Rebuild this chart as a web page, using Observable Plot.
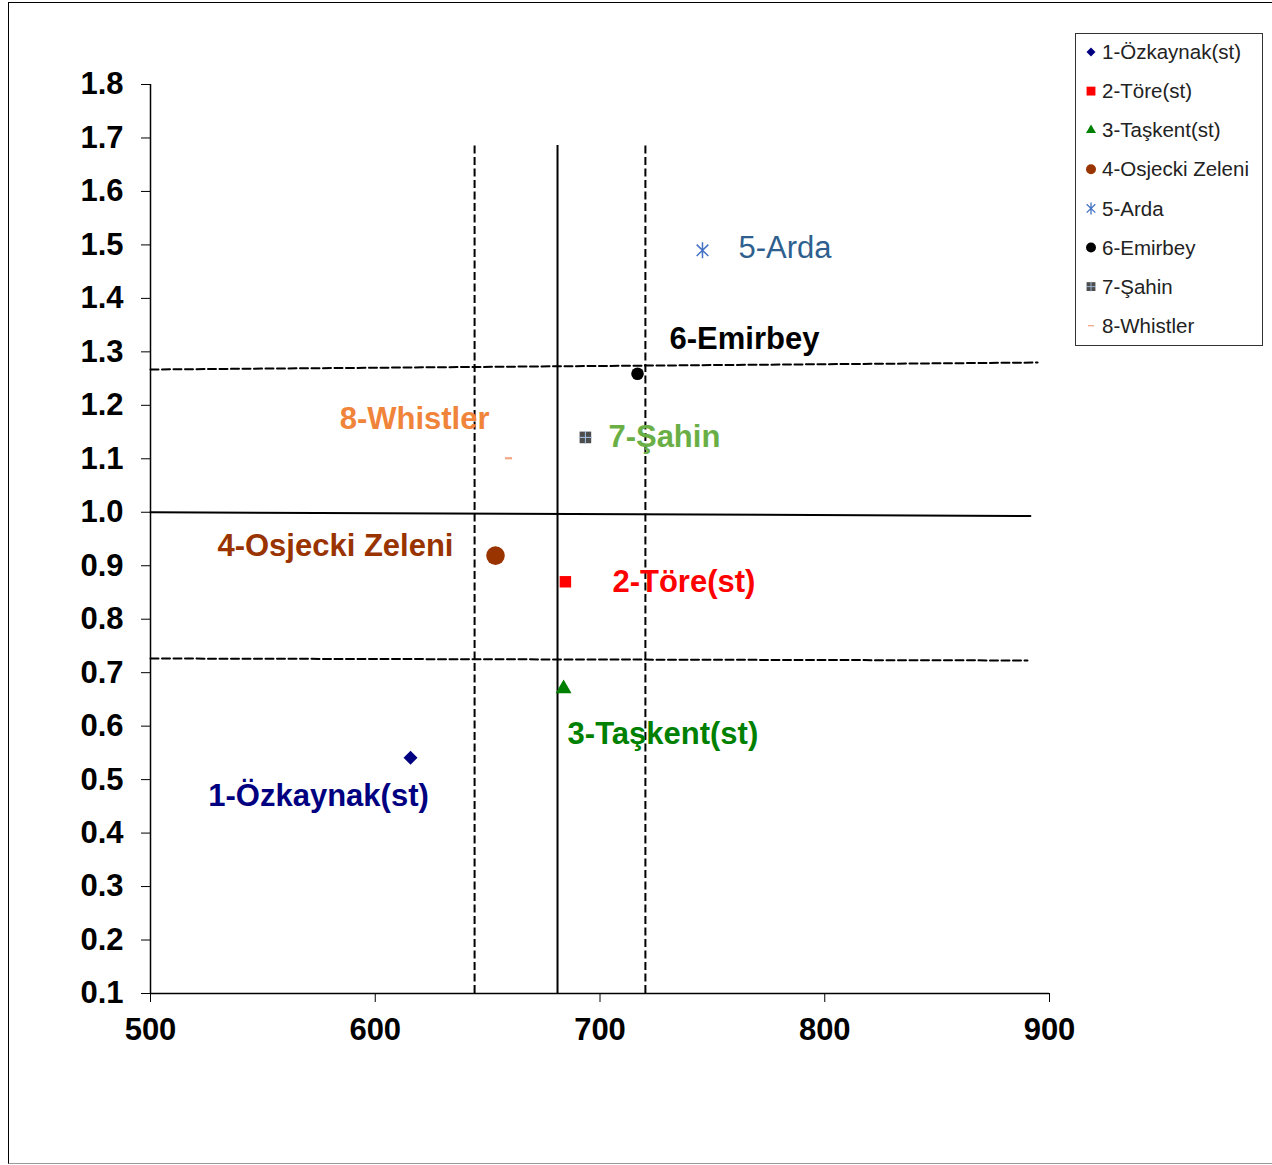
<!DOCTYPE html>
<html>
<head>
<meta charset="utf-8">
<script src="https://cdn.jsdelivr.net/npm/d3@7"></script>
<script src="https://cdn.jsdelivr.net/npm/@observablehq/plot@0.6"></script>
<style>
  body { margin: 0; background: #fff; font-family: "Liberation Sans", Arial, sans-serif; }
  #wrap { position: relative; width: 1272px; height: 1165px; overflow: hidden; }
  #frame { position: absolute; left: 8px; top: 2px; width: 1290px; height: 1160px;
           border-left: 1.5px solid #000; border-top: 1.5px solid #000; border-bottom: 1.5px solid #999; pointer-events: none; }
  #chart { position: absolute; left: 0; top: 0; }
  #legend { position: absolute; left: 1075px; top: 33px; }
</style>
</head>
<body>
<div id="wrap">
  <div id="frame"></div>
  <div id="chart"></div>
  <div id="legend"></div>
</div>
<script>
// ---- data ----
const varieties = ["1-Özkaynak(st)", "2-Töre(st)", "3-Taşkent(st)", "4-Osjecki Zeleni", "5-Arda", "6-Emirbey", "7-Şahin", "8-Whistler"];
const xValues = [615.7, 684.6, 683.8, 653.5, 745.6, 716.7, 693.5, 659.3];
const yValues = [0.541, 0.870, 0.670, 0.919, 1.490, 1.259, 1.140, 1.101];

const xTicks = [500, 600, 700, 800, 900];
const yTicks = [0.1, 0.2, 0.3, 0.4, 0.5, 0.6, 0.7, 0.8, 0.9, 1.0, 1.1, 1.2, 1.3, 1.4, 1.5, 1.6, 1.7, 1.8];

// reference lines
const vSolidX = [681.1];
const vDashedX = [644.2, 720.2];
const vLineTop = 1.686;
const hSolidX = [500, 891.5];
const hSolidY = [1.0, 0.993];
const hUpperX = [500, 894.7];
const hUpperY = [1.267, 1.280];
const hLowerX = [500, 890.2];
const hLowerY = [0.7265, 0.7228];

// ---- styles ----
const dashSymbol = { draw(ctx, size) { const w = Math.sqrt(size) / 2; ctx.moveTo(-w, 0); ctx.lineTo(w, 0); } };
const plusSymbol = { draw(ctx, size) { const w = Math.sqrt(size) / 2; ctx.moveTo(-w, 0); ctx.lineTo(w, 0); ctx.moveTo(0, -w); ctx.lineTo(0, w); } };
const starSymbol = { draw(ctx, size) {
  const r = Math.sqrt(size) * 0.6, u = r * 0.72, v = r * 0.7;
  ctx.moveTo(0, -r); ctx.lineTo(0, r);
  ctx.moveTo(-u, -v); ctx.lineTo(u, v);
  ctx.moveTo(-u, v); ctx.lineTo(u, -v);
} };

const markerStyle = [
  { symbol: "diamond2", r: 6.3, fill: "#000080" },
  { symbol: "square2", r: 7.3, fill: "#FF0000" },
  { symbol: "triangle2", r: 7.6, fill: "#008000" },
  { symbol: "circle", r: 9.3, fill: "#993300" },
  { symbol: starSymbol, r: 7.6, stroke: "#4472C4", strokeWidth: 1.5 },
  { symbol: "circle", r: 6.3, fill: "#000000" },
  { symbol: "square2", r: 7.4, fill: "#4D4D4D" },
  { symbol: dashSymbol, r: 4, stroke: "#F4A582", strokeWidth: 2.2 }
];
const legendSize = [52, 100, 72, 78, 100, 78, 100, 36];
const labelStyle = [
  { fill: "#000080", dx: -92, dy: 38, textAnchor: "middle", fontWeight: "bold" },
  { fill: "#FF0000", dx: 47, dy: 0, textAnchor: "start", fontWeight: "bold" },
  { fill: "#008000", dx: 4, dy: 45, textAnchor: "start", fontWeight: "bold" },
  { fill: "#993300", dx: -42, dy: -9, textAnchor: "end", fontWeight: "bold" },
  { fill: "#2E5F8E", dx: 36, dy: -2, textAnchor: "start", fontWeight: "normal" },
  { fill: "#000000", dx: 32, dy: -35, textAnchor: "start", fontWeight: "bold" },
  { fill: "#6AAF45", dx: 23, dy: 0, textAnchor: "start", fontWeight: "bold" },
  { fill: "#F0843A", dx: -19, dy: -39, textAnchor: "end", fontWeight: "bold" }
];

const points = varieties.map((name, i) => ({ name, x: xValues[i], y: yValues[i], i }));
const pair = (xs, ys) => xs.map((x, i) => ({ x, y: ys[i] }));

const marks = [
  // axis lines
  Plot.ruleX([xTicks[0]], { y1: yTicks[0], y2: yTicks[yTicks.length - 1], stroke: "#000", strokeWidth: 1.5 }),
  Plot.ruleY([yTicks[0]], { x1: xTicks[0], x2: xTicks[xTicks.length - 1], stroke: "#000", strokeWidth: 1.5 }),
  // reference lines
  Plot.ruleX(vSolidX, { y1: yTicks[0], y2: vLineTop, stroke: "#000", strokeWidth: 2 }),
  Plot.ruleX(vDashedX, { y1: yTicks[0], y2: vLineTop, stroke: "#000", strokeWidth: 2, strokeDasharray: "8,3.5" }),
  Plot.line(pair(hSolidX, hSolidY), { x: "x", y: "y", stroke: "#000", strokeWidth: 2 }),
  Plot.line(pair(hUpperX, hUpperY), { x: "x", y: "y", stroke: "#000", strokeWidth: 2, strokeDasharray: "8,3.5" }),
  Plot.line(pair(hLowerX, hLowerY), { x: "x", y: "y", stroke: "#000", strokeWidth: 2, strokeDasharray: "8,3.5" })
];

points.forEach((p, i) => {
  const m = markerStyle[i];
  marks.push(Plot.dot([p], { x: "x", y: "y", ...m }));
  if (i === 6) marks.push(Plot.dot([p], { x: "x", y: "y", symbol: plusSymbol, r: 7.4, stroke: "#A9C8EA", strokeWidth: 1 }));
  const l = labelStyle[i];
  marks.push(Plot.text([p], { x: "x", y: "y", text: "name", fontSize: 31, fontFamily: "Liberation Sans, Arial, sans-serif", ...l }));
});

const chart = Plot.plot({
  width: 1272,
  height: 1165,
  marginLeft: 150,
  marginRight: 223,
  marginTop: 84,
  marginBottom: 172,
  style: { fontFamily: "Liberation Sans, Arial, sans-serif", fontSize: "31px", fontWeight: "bold", color: "#000", background: "transparent", overflow: "visible" },
  x: { domain: [xTicks[0], xTicks[xTicks.length - 1]], ticks: xTicks, tickSize: 9, tickPadding: 15, tickFormat: d => String(d), label: null },
  y: { domain: [yTicks[0], yTicks[yTicks.length - 1]], ticks: yTicks, tickSize: 9, tickPadding: 18, tickFormat: d => d.toFixed(1), label: null },
  marks
});
document.getElementById("chart").appendChild(chart);

// ---- legend ----
const lw = 187, lh = 312;
const leg = d3.select("#legend").append("svg").attr("width", lw + 2).attr("height", lh + 2);
leg.append("rect").attr("x", 0.5).attr("y", 0.5).attr("width", lw).attr("height", lh).attr("fill", "#fff").attr("stroke", "#333").attr("stroke-width", 1);
const symMap = { diamond2: d3.symbolDiamond2, square2: d3.symbolSquare2, triangle2: d3.symbolTriangle2, circle: d3.symbolCircle };
varieties.forEach((name, i) => {
  const cy = 19 + i * 39.1;
  const m = markerStyle[i];
  const g = leg.append("g").attr("transform", `translate(16,${cy})`);
  const sym = typeof m.symbol === "string" ? symMap[m.symbol] : m.symbol;
  g.append("path").attr("d", d3.symbol(sym, legendSize[i])())
    .attr("fill", m.fill || "none").attr("stroke", m.stroke || "none").attr("stroke-width", m.stroke ? 1.3 : 0);
  if (i === 6) g.append("path").attr("d", d3.symbol(plusSymbol, legendSize[i])()).attr("stroke", "#A9C8EA").attr("stroke-width", 0.8).attr("fill", "none");
  leg.append("text").attr("x", 27).attr("y", cy).attr("dy", "0.35em")
    .attr("font-family", "Liberation Sans, Arial, sans-serif").attr("font-size", 20.5).attr("fill", "#222").text(name);
});
</script>
</body>
</html>
